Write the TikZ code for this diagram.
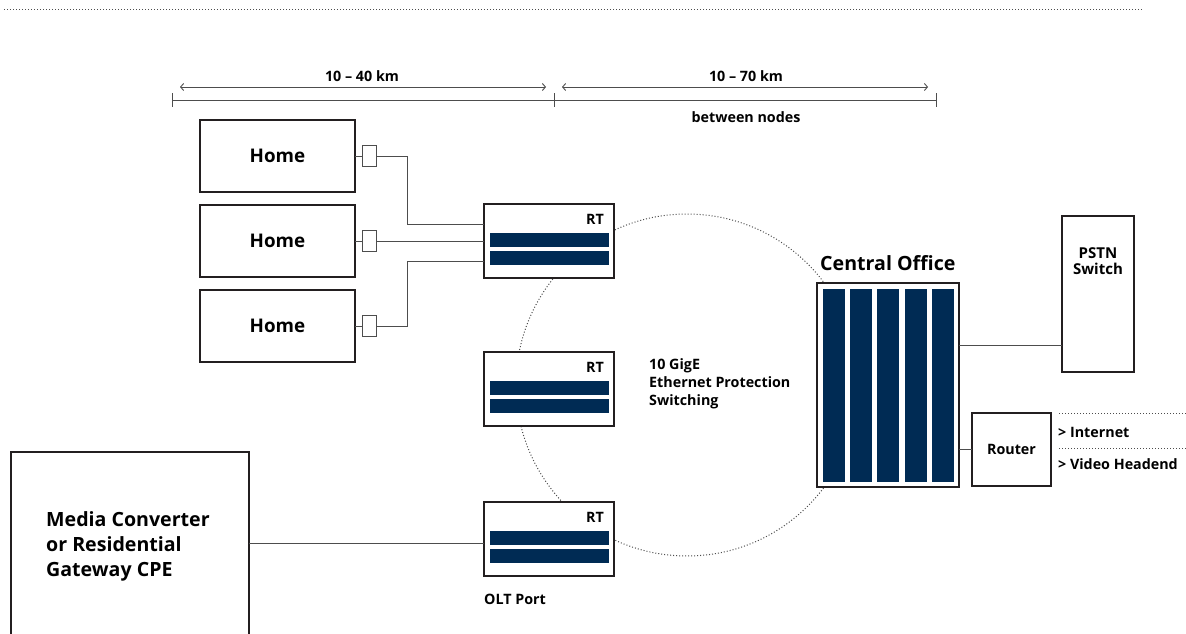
\documentclass[tikz,border=0pt]{standalone}
\usepackage{fontspec}
\setmainfont{Open Sans}
\usetikzlibrary{arrows.meta,calc}
\definecolor{navy}{HTML}{002B54}
\definecolor{edge}{HTML}{231F20}
\definecolor{wirec}{HTML}{4D4D4D}
\begin{document}
\begin{tikzpicture}[x=1pt,y=-1pt,
 >={Straight Barb[length=3pt,width=7pt]},
 box/.style={draw=edge, line width=1.8pt, fill=white, inner sep=0pt, outer sep=0pt},
 plug/.style={draw=wirec, line width=1.3pt, fill=white, inner sep=0pt, outer sep=0pt, minimum width=14pt, minimum height=21pt},
 bar/.style={fill=navy, draw=none, inner sep=0pt, outer sep=0pt},
 wire/.style={draw=wirec, line width=1pt},
 ring/.style={draw=wirec, dotted, line width=1pt},
 dim/.style={draw=wirec, line width=0.9pt},
 big/.style={font=\bfseries\fontsize{19.6}{25}\selectfont, inner sep=0pt},
 mid/.style={font=\bfseries\fontsize{18.8}{20}\selectfont},
 small/.style={font=\bfseries\fontsize{14.3}{18}\selectfont, inner sep=0pt},
 tiny/.style={font=\bfseries\fontsize{14.3}{16}\selectfont, inner sep=0pt},
]
\useasboundingbox (0,0) rectangle (1186,634);
\clip (0,0) rectangle (1186,634);

% top dotted rule
\coordinate (tl) at (4,10);
\coordinate (tr) at (1143,10);
\draw[ring] (tl) -- (tr);

% dimension lines
\coordinate (d1) at (172,100);
\coordinate (d2) at (554,100);
\coordinate (d3) at (936,100);
\draw[dim] (d1) -- (d3);
\foreach \p in {d1,d2,d3} \draw[dim] ([yshift=7pt]\p) -- ([yshift=-7pt]\p);
\coordinate (a1) at (180,87);
\coordinate (a2) at (546,87);
\coordinate (a3) at (562,87);
\coordinate (a4) at (928,87);
\draw[dim, <->] (a1) -- (a2);
\draw[dim, <->] (a3) -- (a4);
\node[tiny] (lab1) at (362,76) {10 – 40 km};
\node[tiny] (lab2) at (746,76) {10 – 70 km};
\node[tiny] (lab3) at (746,117) {between nodes};

% ring
\draw[ring] (687,385) circle[radius=171pt];

% homes
\node[box, mid, minimum width=155pt, minimum height=72pt] (home1) at (277.5,156) {Home};
\node[box, mid, minimum width=155pt, minimum height=72pt] (home2) at (277.5,241) {Home};
\node[box, mid, minimum width=155pt, minimum height=72pt] (home3) at (277.5,326) {Home};
\node[plug] (c1) at (369.5,156) {};
\node[plug] (c2) at (369.5,241) {};
\node[plug] (c3) at (369.5,326) {};
\draw[wire] (home1.east) -- (c1.west);
\draw[wire] (home2.east) -- (c2.west);
\draw[wire] (home3.east) -- (c3.west);

% RT boxes
\foreach \n/\y in {rt1/241, rt2/389, rt3/539}{
  \node[box, minimum width=130pt, minimum height=74pt] (\n) at (549,\y) {};
  \node[bar, minimum width=119pt, minimum height=14pt, anchor=north] (\n b1) at ($(\n.north)+(0,29)$) {};
  \node[bar, minimum width=119pt, minimum height=14pt, anchor=north] (\n b2) at ($(\n.north)+(0,47)$) {};
  \node[small, anchor=east] (\n l) at ($(\n.north east)+(-10,15)$) {RT};
}
\draw[wire] (c1.east) -- ++(31,0) |- ([yshift=17pt]rt1.west);
\draw[wire] (c2.east) -- (c2.east -| rt1.west);
\draw[wire] (c3.east) -- ++(31,0) |- ([yshift=-20pt]rt1.west);

\node[small, anchor=west] (olt) at (484,599) {OLT Port};
\node[small, anchor=north west, align=left] (gige) at (649,358) {10 GigE\\Ethernet Protection\\Switching};

% central office
\node[box, minimum width=142pt, minimum height=204pt] (co) at (888,385) {};
\foreach \i in {0,...,4}
  \node[bar, minimum width=22pt, minimum height=193pt, anchor=north west] (cob\i) at ({823+27.2*\i},289) {};
\node[big, anchor=west] (colab) at (820,263) {Central Office};

% PSTN
\node[box, minimum width=72pt, minimum height=156pt, anchor=north] (pstn) at (1098,216) {};
\node[small, align=center, font=\bfseries\fontsize{15}{16.5}\selectfont] (pstnl) at (1098,261) {PSTN\\Switch};
\draw[wire] ([yshift=40pt]co.east) -- ([yshift=40pt]co.east -| pstn.west);

% router
\node[box, small, minimum width=79pt, minimum height=73pt] (router) at (1011.5,449.5) {Router};
\draw[wire] (router.west -| co.east) -- (router.west);
\coordinate (i1) at (1059,413);
\coordinate (i2) at (1186,413);
\coordinate (v1) at (1059,448);
\coordinate (v2) at (1186,448);
\draw[ring] (i1) -- (i2);
\draw[ring] (v1) -- (v2);
\node[small, anchor=west] (inet) at (1058,432) {> Internet};
\node[small, anchor=west] (video) at (1058,464) {> Video Headend};

% media converter
\node[box, minimum width=238pt, minimum height=190pt, anchor=north west] (mc) at (11,452) {};
\node[big, anchor=west, align=left] (mcl) at (46,546) {Media Converter\\or Residential\\Gateway CPE};
\draw[wire] ([yshift=4pt]mc.east) -- ([yshift=4pt]mc.east -| rt3.west);
\end{tikzpicture}
\end{document}
